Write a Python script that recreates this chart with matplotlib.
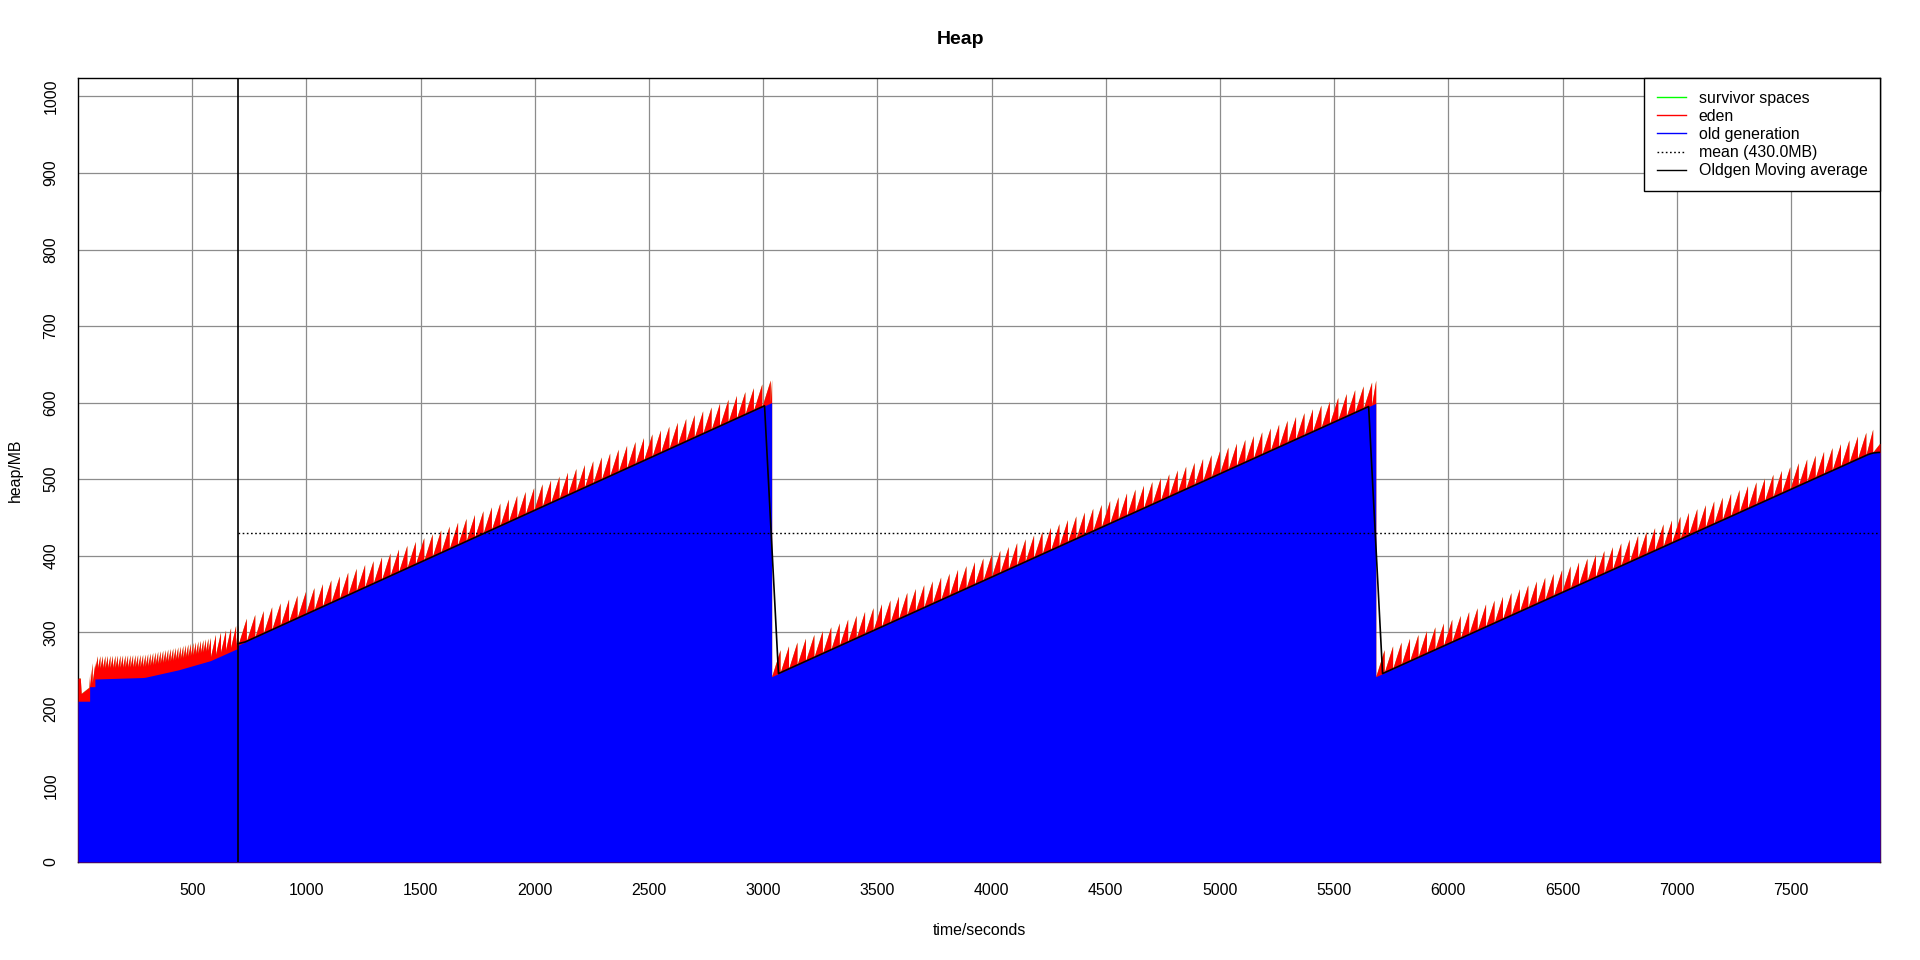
import numpy as np
import pandas as pd
import matplotlib
matplotlib.use("Agg")
import matplotlib.pyplot as plt
from matplotlib.lines import Line2D

## old generation breakpoints (seconds, MB)
## the tiny .01 offsets are the vertical jumps (full GCs / promotions)
old_t = [0, 51, 51.01, 74, 74.01, 290, 440, 580, 700, 700.01,
         3037, 3037.01, 5682, 5682.01, 7858, 7890]
old_mb = [210, 210, 229, 229, 239, 241, 251, 263, 279, 283,
          600, 242, 599, 242, 535, 535]

## first minute of eden, irregular (seconds, MB)
early_t = [0, 10, 14, 48, 51, 51.01, 62, 62.01, 73.99, 74]
early_eden = [30, 30, 10, 18, 37, 0, 31, 5, 31, 12]

## young GC phases: start, end, interval between GCs, eden after/before GC
seg_start = [74, 580, 700, 3037, 5682]
seg_end = [580, 700, 3037, 5682, 7858]
seg_gc_every = [11, 22, 37, 37, 37]
seg_eden_low = [14, 5, 0, 0, 0]
seg_eden_high = [30, 31, 30, 30, 30]

survivor_mb = 0.6
mean_mb = 430.0
stats_start = 700
t_end = 7890
ma_window = 61

## build the sawtooth series
t = list(early_t)
eden = list(early_eden)
for a, b, step, lo, hi in zip(seg_start, seg_end, seg_gc_every, seg_eden_low, seg_eden_high):
    gcs = list(np.arange(a, b, step)) + [b]
    for g0, g1 in zip(gcs[:-1], gcs[1:]):
        t += [g0 + 0.01, g1]
        eden += [lo, hi]
t += [seg_end[-1] + 0.01, t_end]
eden += [0, 12]
t = np.array(t)
eden = np.array(eden, dtype=float)
old = np.interp(t, old_t, old_mb)

## old gen moving average, from stats start
grid = np.arange(stats_start, t_end + 1)
old_grid = pd.Series(np.interp(grid + 0.5, old_t, old_mb))
old_ma = old_grid.rolling(ma_window, center=True, min_periods=1).mean()

plt.rcParams['font.family'] = ['Liberation Sans', 'DejaVu Sans']
fig = plt.figure(figsize=(19.2, 9.6), dpi=100)
ax = fig.add_axes([78 / 1920, 1 - 862 / 960, (1880 - 78) / 1920, (862 - 78) / 960])

## survivor layer is so thin it only shows as a faint fringe on the teeth
ax.fill_between(t, 0, old + eden + survivor_mb, color='#b8a040', lw=0, zorder=2, antialiased=False)
ax.fill_between(t, 0, old + eden, color='red', lw=0, zorder=3)
ax.fill_between(t, 0, old, color='blue', lw=0, zorder=4)
ax.plot(grid, old_ma, color='black', lw=1.2, zorder=5)
ax.axvline(stats_start, color='black', lw=1.2, zorder=6)
ax.hlines(mean_mb, stats_start, t_end, colors='black', linestyles=(0, (1.2, 1.8)), lw=1, zorder=6)

ax.set_xlim(0, t_end)
ax.set_ylim(0, 1024)
ax.set_xticks(np.arange(500, 8000, 500))
ax.set_yticks(np.arange(0, 1001, 100))
ax.grid(True, color='#8c8c8c', lw=0.9)
ax.set_axisbelow(True)
ax.tick_params(axis='both', length=0, labelsize=11.4)
ax.tick_params(axis='x', pad=15)
ax.tick_params(axis='y', pad=14, labelrotation=90)
for lab in ax.get_yticklabels():
    lab.set_va('center')
for s in ax.spines.values():
    s.set_color('black')
    s.set_linewidth(1)

ax.set_xlabel('time/seconds', fontsize=11.4, labelpad=18)
ax.set_ylabel('heap/MB', fontsize=11.4, labelpad=15)
fig.text(0.5, 1 - 39 / 960, 'Heap', ha='center', va='center', fontsize=14, fontweight='bold')

handles = [Line2D([], [], color='#00ff00', lw=1),
           Line2D([], [], color='red', lw=1),
           Line2D([], [], color='blue', lw=1),
           Line2D([], [], color='black', lw=1, linestyle=(0, (1.2, 1.8))),
           Line2D([], [], color='black', lw=1)]
labels = ['survivor spaces', 'eden', 'old generation', 'mean (430.0MB)', 'Oldgen Moving average']
leg = ax.legend(handles, labels, loc='upper right', borderaxespad=0, fancybox=False,
                edgecolor='black', framealpha=1, fontsize=11.4, handlelength=1.85,
                handletextpad=0.8, labelspacing=0.2, borderpad=0.8)
leg.get_frame().set_linewidth(1)
leg.set_zorder(10)

plt.savefig('out.png', dpi=100)
plt.close()
